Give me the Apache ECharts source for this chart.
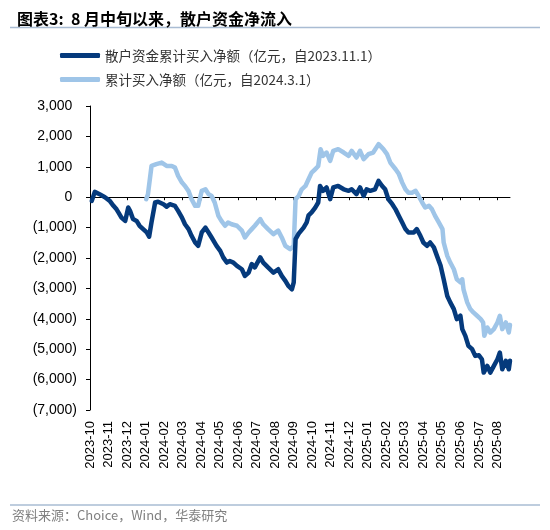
<!DOCTYPE html>
<html><head><meta charset="utf-8">
<script src="https://cdn.jsdelivr.net/npm/echarts@6/dist/echarts.min.js"></script>
<style>html,body{margin:0;padding:0;background:#fff}#c{width:550px;height:530px}</style>
</head><body><div id="c"></div>
<script>
const monthLabels = ['2023-10','2023-11','2023-12','2024-01','2024-02','2024-03','2024-04','2024-05','2024-06','2024-07','2024-08','2024-09','2024-10','2024-11','2024-12','2025-01','2025-02','2025-03','2025-04','2025-05','2025-06','2025-07','2025-08'];
const yTicks = [-7000,-6000,-5000,-4000,-3000,-2000,-1000,0,1000,2000,3000];

const retailDates = ['2023-10-04','2023-10-09','2023-10-17','2023-10-26','2023-11-03','2023-11-09','2023-11-14','2023-11-17','2023-11-22','2023-11-28','2023-12-03','2023-12-06','2023-12-11','2023-12-17','2023-12-22','2023-12-28','2024-01-03','2024-01-07','2024-01-11','2024-01-17','2024-01-22','2024-01-31','2024-02-05','2024-02-10','2024-02-18','2024-02-23','2024-02-29','2024-03-05','2024-03-11','2024-03-16','2024-03-22','2024-03-27','2024-04-02','2024-04-08','2024-04-13','2024-04-18','2024-04-26','2024-05-02','2024-05-07','2024-05-13','2024-05-18','2024-05-24','2024-05-30','2024-06-07','2024-06-12','2024-06-18','2024-06-23','2024-06-28','2024-07-07','2024-07-12','2024-07-20','2024-07-29','2024-08-06','2024-08-12','2024-08-18','2024-08-23','2024-08-29','2024-09-01','2024-09-04','2024-09-09','2024-09-17','2024-09-22','2024-09-25','2024-09-30','2024-10-06','2024-10-11','2024-10-14','2024-10-19','2024-10-25','2024-10-31','2024-11-05','2024-11-13','2024-11-22','2024-11-30','2024-12-05','2024-12-13','2024-12-19','2024-12-25','2024-12-30','2025-01-05','2025-01-13','2025-01-19','2025-01-25','2025-01-30','2025-02-04','2025-02-10','2025-02-15','2025-02-20','2025-02-25','2025-03-02','2025-03-07','2025-03-16','2025-03-21','2025-03-27','2025-04-01','2025-04-07','2025-04-12','2025-04-18','2025-04-23','2025-04-29','2025-05-04','2025-05-10','2025-05-15','2025-05-21','2025-05-26','2025-06-01','2025-06-04','2025-06-09','2025-06-14','2025-06-20','2025-06-25','2025-07-01','2025-07-06','2025-07-09','2025-07-15','2025-07-20','2025-07-26','2025-08-01','2025-08-05','2025-08-09','2025-08-15','2025-08-20','2025-08-22'];
const retailValues = [-120,175,100,0,-120,-285,-400,-500,-670,-780,-340,-450,-720,-780,-940,-1050,-1160,-1300,-820,-175,-150,-230,-310,-230,-285,-450,-670,-890,-1050,-1270,-1490,-1600,-1160,-1000,-1160,-1325,-1600,-1765,-1980,-2150,-2100,-2150,-2260,-2370,-2590,-2480,-2200,-2310,-1980,-2150,-2310,-2480,-2370,-2590,-2750,-2920,-3030,-2800,-1380,-1200,-1000,-830,-600,-500,-340,-175,370,210,320,-65,320,370,260,210,260,100,320,40,260,210,260,535,370,260,-65,-230,-400,-615,-830,-1050,-1160,-1160,-1050,-1270,-1490,-1600,-1490,-1650,-1930,-2260,-2700,-3250,-3460,-3680,-4010,-3900,-4340,-4560,-4890,-5000,-5220,-5200,-5330,-5770,-5550,-5770,-5550,-5330,-5110,-5660,-5380,-5660,-5380];

const buyDates = ['2024-01-02','2024-01-05','2024-01-11','2024-01-19','2024-01-28','2024-02-05','2024-02-13','2024-02-18','2024-02-23','2024-02-29','2024-03-05','2024-03-11','2024-03-16','2024-03-22','2024-03-27','2024-04-02','2024-04-08','2024-04-13','2024-04-18','2024-04-23','2024-04-29','2024-05-04','2024-05-10','2024-05-15','2024-05-21','2024-05-30','2024-06-07','2024-06-12','2024-06-18','2024-06-23','2024-06-28','2024-07-07','2024-07-12','2024-07-20','2024-07-29','2024-08-06','2024-08-12','2024-08-18','2024-08-26','2024-09-01','2024-09-04','2024-09-09','2024-09-14','2024-09-20','2024-09-25','2024-09-30','2024-10-06','2024-10-11','2024-10-15','2024-10-19','2024-10-25','2024-10-31','2024-11-05','2024-11-13','2024-11-22','2024-11-30','2024-12-05','2024-12-13','2024-12-19','2024-12-25','2025-01-02','2025-01-10','2025-01-19','2025-01-27','2025-02-02','2025-02-07','2025-02-15','2025-02-20','2025-02-25','2025-03-02','2025-03-07','2025-03-13','2025-03-19','2025-03-24','2025-03-30','2025-04-04','2025-04-10','2025-04-15','2025-04-20','2025-04-26','2025-05-02','2025-05-04','2025-05-10','2025-05-15','2025-05-21','2025-05-26','2025-06-01','2025-06-04','2025-06-06','2025-06-12','2025-06-17','2025-06-22','2025-06-28','2025-07-04','2025-07-08','2025-07-10','2025-07-15','2025-07-20','2025-07-26','2025-08-01','2025-08-05','2025-08-09','2025-08-15','2025-08-20','2025-08-22'];
const buyValues = [-65,100,1030,1085,1140,1030,1030,975,700,480,370,200,-65,-285,-285,210,260,100,40,-175,-615,-780,-940,-830,-890,-940,-1100,-1325,-1160,-1050,-940,-720,-890,-1050,-1215,-1100,-1325,-1600,-1710,-1600,-65,40,260,370,590,810,920,1030,1580,1360,1470,1195,1525,1580,1470,1360,1525,1305,1525,1250,1415,1470,1745,1580,1415,1140,920,760,480,260,150,150,210,40,-175,-340,-285,-400,-615,-830,-1050,-1490,-1930,-2150,-2370,-2700,-2800,-2700,-3030,-3460,-3680,-3790,-3900,-4010,-4120,-4560,-4285,-4450,-4340,-4120,-3900,-4340,-4120,-4450,-4200];

const seriesNames = ['散户资金累计买入净额（亿元，自2023.11.1）','累计买入净额（亿元，自2024.3.1）'];

function monthIndex(s){
  const p = s.split('-').map(Number);
  const dim = new Date(p[0], p[1], 0).getDate();
  return (p[0]-2023)*12 + (p[1]-10) + (p[2]-1)/dim;
}
const pairs = (ds, vs) => ds.map((d,i)=>[monthIndex(d), vs[i]]);
const xMax = monthIndex(retailDates[retailDates.length-1]);
const tickIdx = monthLabels.map((_,i)=>i);
const FONT = "'Liberation Sans', Arial, 'Noto Sans CJK SC', sans-serif";
const CJK = "'Noto Sans CJK SC', 'Liberation Sans', sans-serif";

// Excel style: negatives in parentheses, positives padded by an invisible ")"
const fmtY = v => v < 0 ? '(' + Math.abs(v).toLocaleString('en-US') + ')' : v.toLocaleString('en-US') + '{h|)}';

const chart = echarts.init(document.getElementById('c'));
chart.setOption({
  animation: false,
  backgroundColor: '#fff',
  title: {
    text: '图表3:  8 月中旬以来，散户资金净流入',
    left: 12, top: 6,
    textStyle: {fontSize: 16, fontWeight: 'bold', color: '#000', fontFamily: CJK}
  },
  graphic: [
    {type:'line', shape:{x1:10,y1:27.5,x2:540,y2:27.5}, style:{stroke:'#a9bcd3', lineWidth:1.5}},
    {type:'line', shape:{x1:10,y1:505,x2:540,y2:505}, style:{stroke:'#a9bcd3', lineWidth:1.5}},
    {type:'text', left: 12, top: 509, style:{text:'资料来源：Choice，Wind，华泰研究', fill:'#808080', font:"13px 'Noto Sans CJK SC', 'Liberation Sans', sans-serif"}}
  ],
  legend: {
    orient: 'vertical', left: 55, top: 42,
    itemWidth: 40, itemHeight: 5, itemGap: 7,
    icon: 'roundRect',
    textStyle: {fontSize: 13.5, color: '#333', fontFamily: CJK, lineHeight: 17},
    data: seriesNames
  },
  grid: {left: 90, right: 40, top: 106, bottom: 120, containLabel: false},
  xAxis: [
    {
      type: 'value', min: 0, max: xMax,
      axisLine: {show: true, onZero: true, lineStyle: {color: '#000', width: 1}},
      axisTick: {show: true, inside: false, length: 3, customValues: tickIdx, lineStyle:{color:'#000'}},
      axisLabel: {show: false},
      splitLine: {show: false}
    },
    {
      type: 'value', min: 0, max: xMax, position: 'bottom',
      axisLine: {show: false, onZero: false},
      axisTick: {show: false},
      splitLine: {show: false},
      axisLabel: {
        show: true, rotate: 90, margin: 11, fontSize: 13, color: '#000', fontFamily: FONT,
        padding: [6, 0, 0, 0],
        customValues: tickIdx,
        formatter: v => monthLabels[Math.round(v)] || ''
      }
    }
  ],
  yAxis: {
    type: 'value', min: -7000, max: 3000, interval: 1000,
    axisLine: {show: true, lineStyle: {color: '#000', width: 1}},
    axisTick: {show: true, length: 4, lineStyle: {color: '#000'}},
    splitLine: {show: false},
    axisLabel: {
      fontSize: 14, color: '#000', fontFamily: FONT, margin: 13, formatter: fmtY,
      rich: {h: {color: 'rgba(0,0,0,0)', fontSize: 14, fontFamily: FONT}}
    }
  },
  series: [
    {
      name: seriesNames[0], type: 'line', xAxisIndex: 0, showSymbol: false, symbol: 'none',
      data: pairs(retailDates, retailValues),
      lineStyle: {color: '#053a7c', width: 4.5, join: 'round', cap: 'round'},
      itemStyle: {color: '#053a7c'}, z: 3
    },
    {
      name: seriesNames[1], type: 'line', xAxisIndex: 0, showSymbol: false, symbol: 'none',
      data: pairs(buyDates, buyValues),
      lineStyle: {color: '#9fc5e8', width: 4.5, join: 'round', cap: 'round'},
      itemStyle: {color: '#9fc5e8'}, z: 2
    }
  ]
});
</script></body></html>
